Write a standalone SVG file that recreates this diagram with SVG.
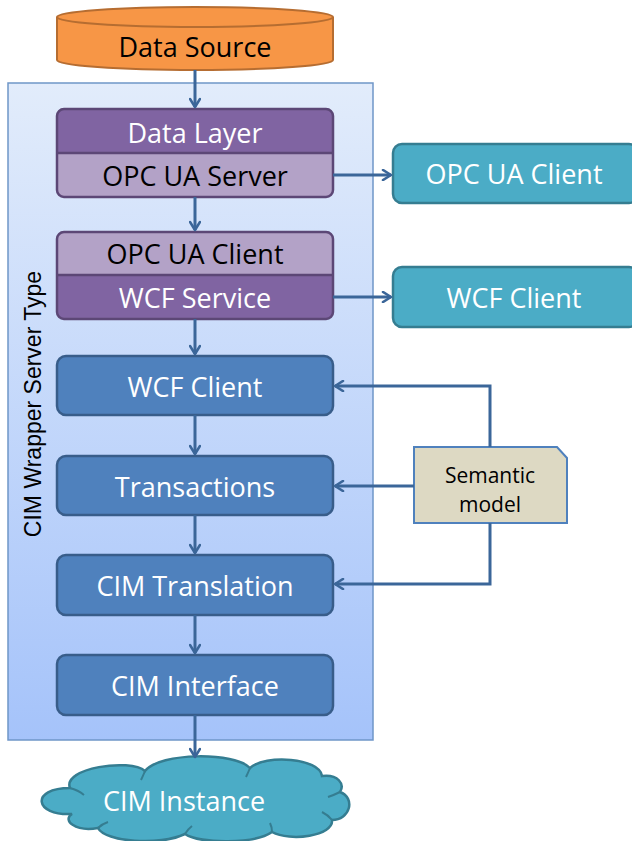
<svg xmlns="http://www.w3.org/2000/svg" width="632" height="841" viewBox="0 0 632 841">
<defs>
<linearGradient id="cont" x1="0" y1="0" x2="0" y2="1">
<stop offset="0" stop-color="#e2ecfb"/>
<stop offset="1" stop-color="#a5c3fa"/>
</linearGradient>
<marker id="arr" viewBox="0 0 12 12" refX="10" refY="6" markerWidth="12" markerHeight="12" markerUnits="userSpaceOnUse" orient="auto">
<polyline points="2,1 10,6 2,11" fill="none" stroke="#3b6699" stroke-width="2.6" stroke-linecap="round" stroke-linejoin="round"/>
</marker>
<style>
.t{font-family:"Open Sans","Liberation Sans",sans-serif;font-size:27px;text-anchor:middle;dominant-baseline:central}
.w{fill:#ffffff}
.k{fill:#000000}
.blue{fill:#4f81bd;stroke:#385d8a;stroke-width:2.5}
.teal{fill:#4bacc6;stroke:#357d91;stroke-width:2.5}
.pd{fill:#8064a2}
.pl{fill:#b3a2c7}
.pst{fill:none;stroke:#5c4776;stroke-width:2.5}
.c{fill:none;stroke:#3b6699;stroke-width:3}
</style>
</defs>

<g id="container">
<rect x="8" y="83" width="365" height="657" fill="url(#cont)" stroke="#6f96c8" stroke-width="1.5"/>
<text x="33" y="404" transform="rotate(-90 33 404)" font-family="'Liberation Sans', Arial, sans-serif" font-size="23" text-anchor="middle" dominant-baseline="central" fill="#000">CIM Wrapper Server Type</text>
</g>

<g id="data-source">
<path d="M57,17 L57,60 A138,10 0 0 0 333,60 L333,17" fill="#f79646" stroke="#b66d31" stroke-width="2"/>
<ellipse cx="195" cy="17" rx="138" ry="10" fill="#f79646" stroke="#b66d31" stroke-width="2"/>
<text class="t k" x="195" y="46">Data Source</text>
</g>

<g id="data-layer-opc-ua-server">
<rect x="57" y="109" width="276" height="88" rx="7" class="pl"/>
<path d="M57,153 L57,116 A7,7 0 0 1 64,109 L326,109 A7,7 0 0 1 333,116 L333,153 Z" class="pd"/>
<line x1="57" y1="153" x2="333" y2="153" stroke="#5c4776" stroke-width="2.5"/>
<rect x="57" y="109" width="276" height="88" rx="7" class="pst"/>
<text class="t w" x="195" y="132">Data Layer</text>
<text class="t k" x="195" y="175">OPC UA Server</text>
</g>

<g id="opc-ua-client-wcf-service">
<rect x="57" y="232" width="276" height="87" rx="7" class="pd"/>
<path d="M57,275 L57,239 A7,7 0 0 1 64,232 L326,232 A7,7 0 0 1 333,239 L333,275 Z" class="pl"/>
<line x1="57" y1="275" x2="333" y2="275" stroke="#5c4776" stroke-width="2.5"/>
<rect x="57" y="232" width="276" height="87" rx="7" class="pst"/>
<text class="t k" x="195" y="253">OPC UA Client</text>
<text class="t w" x="195" y="297">WCF Service</text>
</g>

<g id="wcf-client">
<rect x="57" y="356" width="276" height="59" rx="9" class="blue"/>
<text class="t w" x="195" y="386">WCF Client</text>
</g>

<g id="transactions">
<rect x="57" y="456" width="276" height="59" rx="9" class="blue"/>
<text class="t w" x="195" y="486">Transactions</text>
</g>

<g id="cim-translation">
<rect x="57" y="555" width="276" height="60" rx="9" class="blue"/>
<text class="t w" x="195" y="585">CIM Translation</text>
</g>

<g id="cim-interface">
<rect x="57" y="655" width="276" height="60" rx="9" class="blue"/>
<text class="t w" x="195" y="685">CIM Interface</text>
</g>

<g id="opc-ua-client-ext">
<rect x="393" y="144" width="245" height="59" rx="9" class="teal"/>
<text class="t w" x="514" y="173">OPC UA Client</text>
</g>

<g id="wcf-client-ext">
<rect x="393" y="267" width="245" height="60" rx="9" class="teal"/>
<text class="t w" x="514" y="297">WCF Client</text>
</g>

<g id="semantic-model">
<polygon points="414,447 557,447 567,458 567,523 414,523" fill="#ddd9c3" stroke="#4f81bd" stroke-width="2"/>
<text x="490" y="475" font-family="Open Sans, Liberation Sans, sans-serif" font-size="21" text-anchor="middle" dominant-baseline="central" fill="#000">Semantic</text>
<text x="490" y="504" font-family="Open Sans, Liberation Sans, sans-serif" font-size="21" text-anchor="middle" dominant-baseline="central" fill="#000">model</text>
</g>

<g id="cim-instance">
<path d="M72,814 C34,816 30,788 70,788 C62,768 130,758 145,771 C160,752 235,752 250,768 C265,754 320,758 322,776 C338,774 345,784 340,792 C356,798 350,820 332,820 C334,836 290,842 272,832 C255,844 200,844 185,834 C160,846 105,842 98,828 C75,832 62,820 72,814 Z" fill="#4bacc6" stroke="#357d91" stroke-width="2.5"/>
<path d="M70,788 Q78,790 84,795 M145,771 Q143,776 141,780 M250,768 Q248,773 246,777 M340,792 Q334,795 328,797 M332,820 Q328,815 322,812 M272,832 Q272,827 270,823 M185,834 Q188,829 192,826 M98,828 Q102,824 108,822" fill="none" stroke="#357d91" stroke-width="2"/>
<text class="t w" x="184" y="800">CIM Instance</text>
</g>

<g id="connectors">
<line class="c" x1="195" y1="70" x2="195" y2="107" marker-end="url(#arr)"/>
<line class="c" x1="195" y1="197" x2="195" y2="230" marker-end="url(#arr)"/>
<line class="c" x1="195" y1="319" x2="195" y2="354" marker-end="url(#arr)"/>
<line class="c" x1="195" y1="415" x2="195" y2="454" marker-end="url(#arr)"/>
<line class="c" x1="195" y1="515" x2="195" y2="553" marker-end="url(#arr)"/>
<line class="c" x1="195" y1="615" x2="195" y2="653" marker-end="url(#arr)"/>
<line class="c" x1="195" y1="715" x2="195" y2="757" marker-end="url(#arr)"/>
<line class="c" x1="333" y1="175" x2="391" y2="175" marker-end="url(#arr)"/>
<line class="c" x1="333" y1="297" x2="391" y2="297" marker-end="url(#arr)"/>
<polyline class="c" points="490,447 490,386 335,386" marker-end="url(#arr)"/>
<line class="c" x1="414" y1="486" x2="335" y2="486" marker-end="url(#arr)"/>
<polyline class="c" points="490,523 490,584 335,584" marker-end="url(#arr)"/>
</g>
</svg>
